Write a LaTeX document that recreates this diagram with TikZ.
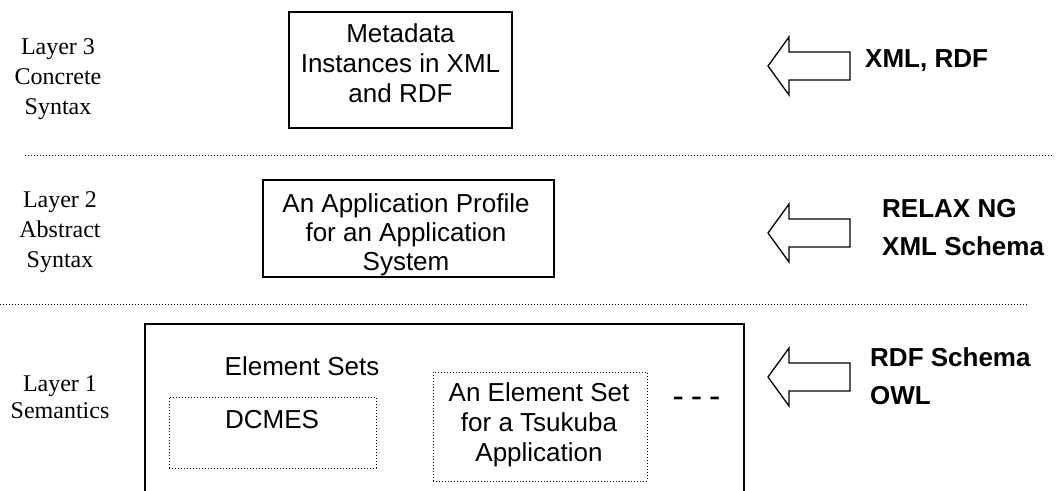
\documentclass[tikz,border=0pt]{standalone}
\usepackage{fontspec}
\setmainfont{Liberation Sans}
\newfontfamily\layerfont{Liberation Serif}

\tikzset{
	box/.style={draw, line width=1.6pt, inner sep=0pt},
	dotbox/.style={draw, line width=1pt, dash pattern=on 1pt off 2pt, inner sep=0pt},
	txt/.style={align=center, inner sep=0pt, font=\fontsize{26}{29}\selectfont},
	layer/.style={align=center, inner sep=0pt, font=\layerfont\fontsize{24}{30}\selectfont},
	lang/.style={align=left, anchor=west, inner sep=0pt, font=\bfseries\fontsize{26}{38}\selectfont},
	sep/.style={line width=0.9pt, dash pattern=on 1pt off 2pt},
	blockarrow/.style={draw, line width=1.3pt, line join=miter}
}

\begin{document}
\begin{tikzpicture}[x=1pt, y=-1pt]
	\useasboundingbox (0, 0) rectangle (1056, 490);
	\clip (0, 0) rectangle (1056, 490);

	% layer names
	\node[layer] (l3) at (58, 79.5)		{Layer 3\\Concrete\\Syntax};
	\node[layer] (l2) at (60, 232.5)	{Layer 2\\Abstract\\Syntax};
	\node[layer, font=\layerfont\fontsize{24}{27}\selectfont] (l1) at (60, 397.4)	{Layer 1\\Semantics};

	% boxes
	\node[box, minimum width=223pt, minimum height=116pt] (md) at (400.5, 70)	{};
	\node[txt, font=\fontsize{26}{30}\selectfont] (mdt) at (400.5, 63.5)	{Metadata\\Instances in XML\\and RDF};

	\node[box, minimum width=291pt, minimum height=97pt] (ap) at (408.5, 228.5)	{};
	\node[txt] (apt) at (406, 234.8)	{An Application Profile\\for an Application\\System};

	\draw[line width=1.6pt] (145, 500) -- (145, 324) -- (744, 324) -- (744, 500);
	\node[txt, anchor=base] (es) at (302, 375)	{Element Sets};

	\node[dotbox, minimum width=207pt, minimum height=71pt] (dc) at (272.5, 432.5)	{};
	\node[txt, anchor=base] (dct) at (272, 428)	{DCMES};

	\node[dotbox, minimum width=214pt, minimum height=109pt] (ts) at (540, 426.5)	{};
	\node[txt, font=\fontsize{26}{30}\selectfont] (tst) at (539, 425)	{An Element Set\\for a Tsukuba\\Application};

	\node[txt, anchor=base, font=\fontsize{34}{34}\selectfont] (more) at (696.5, 407.5)	{-\hspace{7pt}-\hspace{7pt}-};

	% separators
	\draw[sep] (25, 155) -- (1052, 155);
	\draw[sep] (0, 304) -- (1028, 304);

	% arrows and languages
	\foreach \y in {66, 233, 377}
		\draw[blockarrow] (768, \y) -- (789, \y-29) -- (789, \y-14) -- (850, \y-14)
			-- (850, \y+14) -- (789, \y+14) -- (789, \y+29) -- cycle;

	\node[lang, anchor=base west] (r3) at (865, 67)	{XML, RDF};
	\node[lang] (r2) at (882, 227.7)	{RELAX NG\\XML Schema};
	\node[lang] (r1) at (870, 376)		{RDF Schema\\OWL};
\end{tikzpicture}
\end{document}
